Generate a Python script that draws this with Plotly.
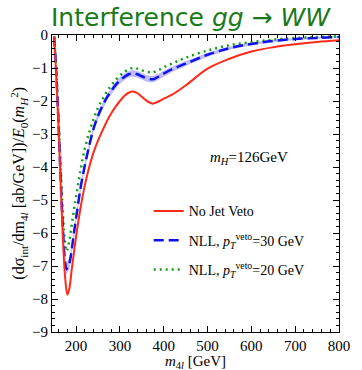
import plotly.graph_objects as go

# ---- data ----
x_red = [150, 155, 160, 165, 170, 175, 180, 185, 190, 195, 200, 210, 220, 230, 240, 250, 260, 270, 280, 290,
         300, 310, 320, 330, 340, 350, 360, 370, 375, 380, 390, 400, 420, 450, 500, 550, 600, 650, 700, 750, 800]
y_red = [-0.05, -1.3, -2.8, -4.6, -6.2, -7.35, -7.87, -7.65, -7.1, -6.6, -6.1, -5.25, -4.55, -4.0, -3.55, -3.2,
         -2.9, -2.62, -2.38, -2.18, -2.0, -1.85, -1.75, -1.71, -1.76, -1.87, -1.98, -2.06, -2.08, -2.06, -2.0,
         -1.93, -1.8, -1.53, -1.02, -0.72, -0.5, -0.37, -0.28, -0.21, -0.16]

x_nll = [150, 155, 160, 165, 170, 175, 178, 180, 185, 190, 195, 200, 210, 220, 230, 240, 250, 260, 270, 280, 290,
         300, 310, 320, 330, 340, 350, 360, 370, 375, 380, 390, 400, 420, 450, 500, 550, 600, 650, 700, 750, 800]
y_nll30 = [-0.05, -1.2, -2.7, -4.4, -5.9, -6.9, -7.1, -7.05, -6.9, -6.5, -6.0, -5.55, -4.65, -3.95, -3.35, -2.83,
           -2.45, -2.15, -1.9, -1.7, -1.52, -1.38, -1.27, -1.19, -1.16, -1.19, -1.25, -1.31, -1.34, -1.34, -1.32,
           -1.25, -1.17, -1.03, -0.87, -0.6, -0.4, -0.27, -0.18, -0.12, -0.09, -0.06]
band30 = [0.02, 0.08, 0.12, 0.15, 0.17, 0.18, 0.18, 0.18, 0.17, 0.16, 0.15, 0.14, 0.13, 0.12, 0.11, 0.1,
          0.1, 0.1, 0.1, 0.1, 0.1, 0.1, 0.1, 0.1, 0.1, 0.1, 0.1, 0.1, 0.1, 0.1, 0.1,
          0.09, 0.09, 0.08, 0.07, 0.06, 0.05, 0.04, 0.04, 0.03, 0.03, 0.03]
y_nll20 = [-0.05, -1.15, -2.55, -4.05, -5.45, -6.35, -6.55, -6.5, -6.2, -5.75, -5.3, -4.9, -4.1, -3.45, -2.95,
           -2.55, -2.2, -1.95, -1.72, -1.53, -1.37, -1.23, -1.12, -1.04, -1.0, -1.02, -1.07, -1.11, -1.13, -1.13,
           -1.11, -1.05, -0.98, -0.86, -0.69, -0.47, -0.31, -0.22, -0.14, -0.09, -0.06, -0.04]

x_ticks = [200, 300, 400, 500, 600, 700, 800]
y_ticks = [0, -1, -2, -3, -4, -5, -6, -7, -8, -9]

serif = "Liberation Serif"

band_hi = [y + w for y, w in zip(y_nll30, band30)]
band_lo = [y - w for y, w in zip(y_nll30, band30)]

fig = go.Figure()
fig.add_trace(go.Scatter(x=x_nll, y=band_hi, mode="lines", line=dict(width=0), showlegend=False,
                         hoverinfo="skip"))
fig.add_trace(go.Scatter(x=x_nll, y=band_lo, mode="lines", line=dict(width=0), fill="tonexty",
                         fillcolor="rgba(110,110,255,0.45)", showlegend=False, hoverinfo="skip"))
fig.add_trace(go.Scatter(x=x_nll, y=y_nll20, mode="lines", line=dict(color="#10a010", width=2.5, dash="2px,4px", shape="spline"),
                         name="NLL, <i>p</i><sub><i>T</i></sub><sup>veto</sup>=20 GeV", legendgroup="c", legendrank=3))
fig.add_trace(go.Scatter(x=x_nll, y=y_nll30, mode="lines", line=dict(color="#1010ee", width=2.5, dash="10px,5px", shape="spline"),
                         name="NLL, <i>p</i><sub><i>T</i></sub><sup>veto</sup>=30 GeV", legendgroup="b", legendrank=2))
fig.add_trace(go.Scatter(x=x_red, y=y_red, mode="lines", line=dict(color="#ff2a1a", width=2, shape="spline"),
                         name="No Jet Veto", legendgroup="a", legendrank=1))

axis_common = dict(showgrid=False, zeroline=False, showline=True, linecolor="black", linewidth=1,
                   mirror="allticks", ticks="inside", ticklen=6, tickcolor="black",
                   tickfont=dict(family=serif, size=15, color="black"))

fig.update_xaxes(range=[145, 800], tickvals=x_ticks, **axis_common,
                 minor=dict(ticks="inside", ticklen=3, dtick=20, tick0=0, tickcolor="black"))
fig.update_yaxes(range=[-9, 0], tickvals=y_ticks, **axis_common,
                 minor=dict(ticks="inside", ticklen=3, dtick=0.2, tick0=0, tickcolor="black"))

fig.update_layout(
    width=362, height=370,
    margin=dict(l=52, r=15, t=35, b=38),
    plot_bgcolor="white", paper_bgcolor="white",
    showlegend=True,
    legend=dict(x=0.337, y=0.46, xanchor="left", yanchor="top", bgcolor="rgba(0,0,0,0)",
                font=dict(family=serif, size=14, color="black"),
                traceorder="grouped", tracegroupgap=8),
    annotations=[
        dict(text="Interference <i>gg</i> → <i>WW</i>", xref="paper", yref="paper", x=0.485, y=1.06,
             xanchor="center", yanchor="middle", showarrow=False,
             font=dict(family="DejaVu Sans", size=25, color="#1a7a1a")),
        dict(text="<i>m</i><sub><i>H</i></sub>=126GeV", xref="paper", yref="paper", x=0.545, y=0.587,
             xanchor="left", yanchor="middle", showarrow=False,
             font=dict(family=serif, size=15, color="black")),
        dict(text="<i>m</i><sub>4<i>l</i></sub> [GeV]", xref="paper", yref="paper", x=0.5, y=-0.064,
             xanchor="center", yanchor="top", showarrow=False,
             font=dict(family=serif, size=15, color="black")),
        dict(text="(dσ<sub>int</sub>/dm<sub>4<i>l</i></sub> [ab/GeV])/<i>E</i><sub>0</sub>(<i>m</i><sub><i>H</i></sub><sup>2</sup>)",
             xref="paper", yref="paper", x=-0.118, y=0.5, textangle=-90,
             xanchor="center", yanchor="middle", showarrow=False,
             font=dict(family=serif, size=16, color="black")),
    ],
)

# remove the browser's default 8px body margin so the figure fills the window exactly
fig.write_html("out.html", config={"displayModeBar": False},
               post_script="document.body.style.margin='0';document.body.style.overflow='hidden';")
